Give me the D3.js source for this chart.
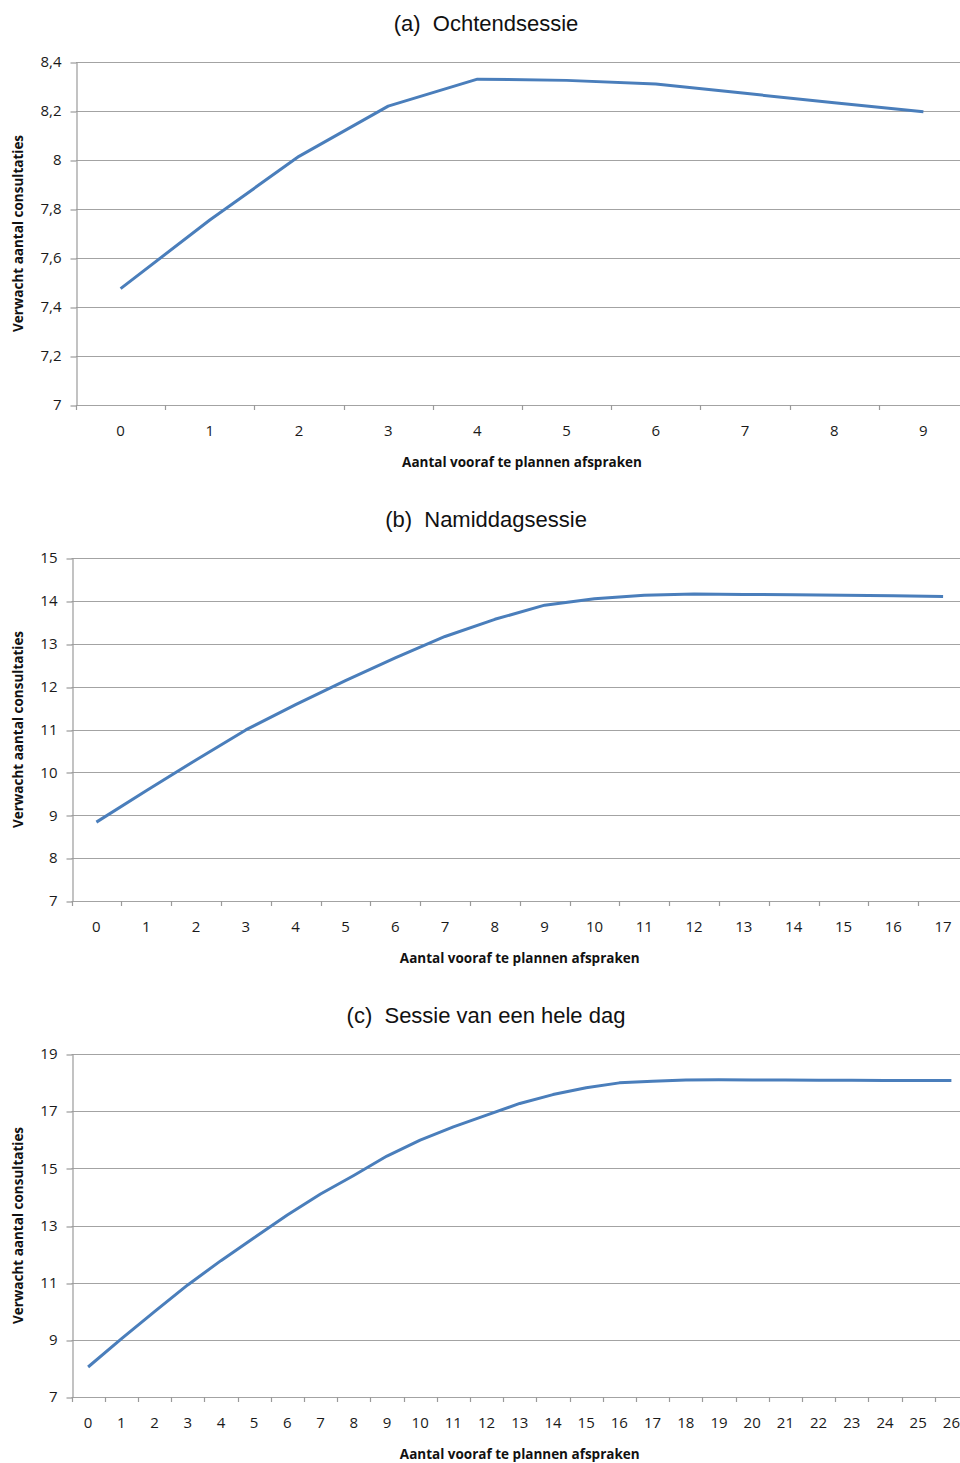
<!DOCTYPE html>
<html lang="nl">
<head>
<meta charset="utf-8">
<title>Verwacht aantal consultaties</title>
<script src="https://d3js.org/d3.v7.min.js"></script>
<style>
  body { margin: 0; background: #fff; }
  .tick text { font-family: "Open Sans", sans-serif; font-size: 15px; fill: #1a1a1a; }
  .axis-title { font-family: "Open Sans", sans-serif; font-size: 13.5px; font-weight: bold; fill: #111; }
  .panel-title { font-family: "Liberation Sans", sans-serif; font-size: 22px; fill: #111; white-space: pre; }
</style>
</head>
<body>
<div id="chart"></div>
<script>
// data
var ochtendCats = [0, 1, 2, 3, 4, 5, 6, 7, 8, 9];
var ochtendValues = [7.475, 7.755, 8.015, 8.22, 8.33, 8.325, 8.31, 8.272, 8.234, 8.197];
var ochtendTicks = [7, 7.2, 7.4, 7.6, 7.8, 8, 8.2, 8.4];

var middagCats = [0, 1, 2, 3, 4, 5, 6, 7, 8, 9, 10, 11, 12, 13, 14, 15, 16, 17];
var middagValues = [8.84, 9.57, 10.29, 10.99, 11.58, 12.14, 12.67, 13.17, 13.57, 13.9,
                    14.05, 14.13, 14.16, 14.15, 14.14, 14.13, 14.12, 14.1];
var middagTicks = [7, 8, 9, 10, 11, 12, 13, 14, 15];

var dagCats = [0, 1, 2, 3, 4, 5, 6, 7, 8, 9, 10, 11, 12, 13, 14, 15, 16, 17, 18, 19,
               20, 21, 22, 23, 24, 25, 26];
var dagValues = [8.05, 9.03, 9.99, 10.92, 11.77, 12.57, 13.37, 14.1, 14.75, 15.43,
                 15.99, 16.45, 16.86, 17.27, 17.58, 17.82, 17.99, 18.05, 18.09, 18.1,
                 18.09, 18.09, 18.08, 18.08, 18.07, 18.07, 18.07];
var dagTicks = [7, 9, 11, 13, 15, 17, 19];

var titles = ["(a)  Ochtendsessie", "(b)  Namiddagsessie", "(c)  Sessie van een hele dag"];
var xTitle = "Aantal vooraf te plannen afspraken";
var yTitle = "Verwacht aantal consultaties";

var width = 960;
var height = 1463;
var plotRight = 968;   // the original picture is cut off on the right
var plotHeight = 343;

var nl = d3.formatLocale({decimal: ",", thousands: ".", grouping: [3], currency: ["€", ""]});
var fmt = nl.format("~g");

var svg = d3.select("#chart").append("svg")
  .attr("width", width)
  .attr("height", height);

function drawPanel(top, left, cats, values, ticks, title) {
  var bottom = top + plotHeight;
  var g = svg.append("g");

  var x = d3.scaleBand()
    .domain(cats)
    .range([left, plotRight])
    .padding(0);

  var y = d3.scaleLinear()
    .domain([ticks[0], ticks[ticks.length - 1]])
    .range([bottom, top]);

  // gridlines
  g.append("g")
    .selectAll("line")
    .data(ticks)
    .join("line")
    .attr("x1", left)
    .attr("x2", plotRight)
    .attr("y1", d => Math.round(y(d)) + 0.5)
    .attr("y2", d => Math.round(y(d)) + 0.5)
    .attr("stroke", "#a3a3a3")
    .attr("stroke-width", 1.2);

  // y axis
  var yAxis = g.append("g")
    .attr("transform", "translate(" + (Math.round(left) + 0.5) + ",0)")
    .call(d3.axisLeft(y).tickValues(ticks).tickFormat(fmt).tickSize(6).tickSizeOuter(0).tickPadding(9));
  yAxis.select(".domain").attr("stroke", "#9a9a9a").attr("stroke-width", 1.2);
  yAxis.selectAll(".tick line").attr("stroke", "#9a9a9a").attr("stroke-width", 1.2)
    .attr("transform", d => "translate(0," + (Math.round(y(d)) + 0.5 - y(d)) + ")");

  // x tick marks at the band edges
  var edges = cats.map(c => x(c)).concat([x(cats[cats.length - 1]) + x.bandwidth()]);
  g.append("g")
    .selectAll("line")
    .data(edges)
    .join("line")
    .attr("x1", d => Math.round(d) + 0.5)
    .attr("x2", d => Math.round(d) + 0.5)
    .attr("y1", bottom)
    .attr("y2", bottom + 5)
    .attr("stroke", "#9a9a9a")
    .attr("stroke-width", 1.2);

  // x labels
  var xAxis = g.append("g")
    .attr("transform", "translate(0," + bottom + ")")
    .call(d3.axisBottom(x).tickSize(0).tickPadding(20));
  xAxis.select(".domain").remove();

  // line
  var line = d3.line()
    .x((d, i) => x(cats[i]) + x.bandwidth() / 2)
    .y(d => y(d));

  g.append("path")
    .datum(values)
    .attr("fill", "none")
    .attr("stroke", "#4a7ebb")
    .attr("stroke-width", 3)
    .attr("stroke-linejoin", "round")
    .attr("d", line);

  // titles
  g.append("text")
    .attr("class", "panel-title")
    .attr("x", 486)
    .attr("y", top - 31)
    .attr("text-anchor", "middle")
    .text(title);

  g.append("text")
    .attr("class", "axis-title")
    .attr("x", (left + plotRight) / 2)
    .attr("y", bottom + 62)
    .attr("text-anchor", "middle")
    .text(xTitle);

  g.append("text")
    .attr("class", "axis-title")
    .attr("transform", "translate(23," + (top + bottom) / 2 + ") rotate(-90)")
    .attr("text-anchor", "middle")
    .text(yTitle);
}

drawPanel(62, 76, ochtendCats, ochtendValues, ochtendTicks, titles[0]);
drawPanel(558, 71.5, middagCats, middagValues, middagTicks, titles[1]);
drawPanel(1054, 71.5, dagCats, dagValues, dagTicks, titles[2]);
</script>
</body>
</html>
